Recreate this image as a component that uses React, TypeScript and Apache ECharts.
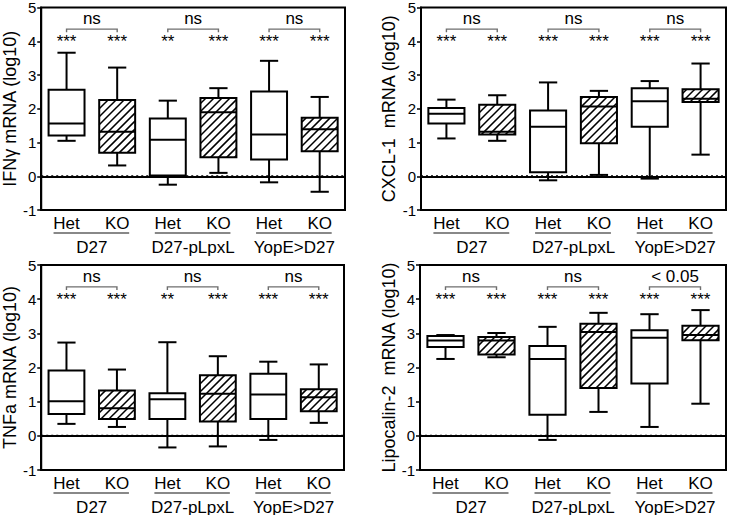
import React, { useEffect, useRef } from "react";
import * as echarts from "echarts";

const categories = ["Het", "KO", "Het", "KO", "Het", "KO"];
const groups = ["D27", "D27-pLpxL", "YopE>D27"];

// each box: [min, Q1, median, Q3, max]
const ifngBoxes = [
  [1.05, 1.21, 1.56, 2.56, 3.66],
  [0.32, 0.7, 1.32, 2.26, 3.22],
  [-0.25, 0.02, 1.08, 1.71, 2.24],
  [0.1, 0.56, 1.9, 2.32, 2.61],
  [-0.18, 0.5, 1.24, 2.51, 3.42],
  [-0.46, 0.74, 1.39, 1.73, 2.35],
];
const cxcl1Boxes = [
  [1.12, 1.56, 1.85, 2.02, 2.27],
  [1.05, 1.24, 1.32, 2.12, 2.4],
  [-0.12, 0.12, 1.47, 1.95, 2.78],
  [0.04, 0.98, 2.07, 2.35, 2.53],
  [-0.07, 1.47, 2.22, 2.61, 2.82],
  [0.64, 2.2, 2.3, 2.58, 3.34],
];
const tnfaBoxes = [
  [0.35, 0.64, 1.01, 1.91, 2.73],
  [0.26, 0.49, 0.81, 1.33, 1.94],
  [-0.34, 0.49, 1.07, 1.25, 2.74],
  [-0.31, 0.42, 1.23, 1.77, 2.33],
  [-0.12, 0.49, 1.21, 1.82, 2.17],
  [0.38, 0.72, 1.13, 1.36, 2.09],
];
const lcn2Boxes = [
  [2.25, 2.6, 2.79, 2.92, 2.95],
  [2.3, 2.38, 2.79, 2.89, 3.01],
  [-0.12, 0.62, 2.25, 2.63, 3.19],
  [0.7, 1.4, 3.04, 3.28, 3.6],
  [0.26, 1.53, 2.87, 3.09, 3.56],
  [0.94, 2.8, 2.95, 3.22, 3.68],
];

const ifngStars = ["***", "***", "**", "***", "***", "***"];
const cxcl1Stars = ["***", "***", "***", "***", "***", "***"];
const tnfaStars = ["***", "***", "**", "***", "***", "***"];
const lcn2Stars = ["***", "***", "***", "***", "***", "***"];

const ifngPairs = ["ns", "ns", "ns"];
const cxcl1Pairs = ["ns", "ns", "ns"];
const tnfaPairs = ["ns", "ns", "ns"];
const lcn2Pairs = ["ns", "ns", "< 0.05"];

const yTitles = [
  "IFNγ mRNA (log10)",
  "CXCL-1  mRNA (log10)",
  "TNFa mRNA (log10)",
  "Lipocalin-2  mRNA (log10)",
];

const FONT = "'Liberation Sans', Arial, Helvetica, sans-serif";

const panels = [
  { boxes: ifngBoxes, stars: ifngStars, pairs: ifngPairs, title: yTitles[0], grid: { left: 38, top: 5, width: 307, height: 205 }, nameGap: 20 },
  { boxes: cxcl1Boxes, stars: cxcl1Stars, pairs: cxcl1Pairs, title: yTitles[1], grid: { left: 421, top: 5, width: 305, height: 205 }, nameGap: 23 },
  { boxes: tnfaBoxes, stars: tnfaStars, pairs: tnfaPairs, title: yTitles[2], grid: { left: 37, top: 265, width: 307, height: 205 }, nameGap: 20 },
  { boxes: lcn2Boxes, stars: lcn2Stars, pairs: lcn2Pairs, title: yTitles[3], grid: { left: 420, top: 265, width: 306, height: 205 }, nameGap: 22 },
];

const STAR_Y = 4.05;
const BRACKET_Y = 4.36;
const BRACKET_TICK_Y = 4.27;
const PAIR_TEXT_Y = 4.66;

function makeBoxRender(stars: string[]) {
  return (params: any, api: any) => {
    const xi = api.value(0);
    const hatched = api.value(6) === 1;
    const cx = api.coord([xi, 0])[0];
    const yMin = api.coord([xi, api.value(1)])[1];
    const yQ1 = api.coord([xi, api.value(2)])[1];
    const yMed = api.coord([xi, api.value(3)])[1];
    const yQ3 = api.coord([xi, api.value(4)])[1];
    const yMax = api.coord([xi, api.value(5)])[1];
    const band = api.size([1, 0])[0];
    const half = band * 0.355;
    const capHalf = band * 0.18;
    const x0 = cx - half;
    const x1 = cx + half;
    const children: any[] = [];
    const lineStyle = { stroke: "#000", lineWidth: 2 };
    children.push({ type: "line", shape: { x1: cx, y1: yQ3, x2: cx, y2: yMax }, style: lineStyle });
    children.push({ type: "line", shape: { x1: cx, y1: yQ1, x2: cx, y2: yMin }, style: lineStyle });
    children.push({ type: "line", shape: { x1: cx - capHalf, y1: yMax, x2: cx + capHalf, y2: yMax }, style: lineStyle });
    children.push({ type: "line", shape: { x1: cx - capHalf, y1: yMin, x2: cx + capHalf, y2: yMin }, style: lineStyle });
    children.push({ type: "rect", shape: { x: x0, y: yQ3, width: x1 - x0, height: yQ1 - yQ3 }, style: { fill: "#fff", stroke: "none" } });
    if (hatched) {
      const step = 8;
      const top = yQ3;
      const bot = yQ1;
      const cStart = Math.ceil((x0 + top) / step) * step;
      for (let c = cStart; c < x1 + bot; c += step) {
        const xa = Math.max(x0, c - bot);
        const xb = Math.min(x1, c - top);
        if (xb - xa > 0.5) {
          children.push({
            type: "line",
            shape: { x1: xa, y1: c - xa, x2: xb, y2: c - xb },
            style: { stroke: "#000", lineWidth: 1.5 },
          });
        }
      }
    }
    children.push({ type: "rect", shape: { x: x0, y: yQ3, width: x1 - x0, height: yQ1 - yQ3 }, style: { fill: "none", stroke: "#000", lineWidth: 2 } });
    children.push({ type: "line", shape: { x1: x0, y1: yMed, x2: x1, y2: yMed }, style: lineStyle });
    const sy = api.coord([xi, STAR_Y])[1];
    children.push({
      type: "text",
      x: cx,
      y: sy + 2,
      style: {
        text: stars[params.dataIndex],
        fill: "#000",
        fontSize: 17,
        fontFamily: FONT,
        align: "center",
        verticalAlign: "middle",
        textAlign: "center",
        textVerticalAlign: "middle",
      },
    });
    return { type: "group", children };
  };
}

function makeAnnotRender(pairs: string[]) {
  return (params: any, api: any) => {
    const hi = api.value(0);
    const gi = params.dataIndex;
    const cs = params.coordSys;
    const bottom = cs.y + cs.height;
    const cxH = api.coord([hi, 0])[0];
    const cxK = api.coord([hi + 1, 0])[0];
    const mid = (cxH + cxK) / 2;
    const by = api.coord([hi, BRACKET_Y])[1];
    const bty = api.coord([hi, BRACKET_TICK_Y])[1];
    const ty = api.coord([hi, PAIR_TEXT_Y])[1];
    const gray = { stroke: "#6e6e6e", lineWidth: 1.4 };
    const children: any[] = [];
    if (gi === 0) {
      const zy = api.coord([hi, 0])[1];
      children.push({
        type: "line",
        shape: { x1: cs.x, y1: zy, x2: cs.x + cs.width, y2: zy },
        style: { stroke: "#000", lineWidth: 2, lineDash: [2, 3] },
      });
    }
    children.push({ type: "polyline", shape: { points: [[cxH, bty], [cxH, by], [cxK, by], [cxK, bty]] }, style: { ...gray, fill: "none" } });
    children.push({
      type: "text",
      x: mid,
      y: ty,
      style: { text: pairs[gi], fill: "#000", fontSize: 17, fontFamily: FONT, align: "center", verticalAlign: "middle", textAlign: "center", textVerticalAlign: "middle" },
    });
    children.push({
      type: "line",
      shape: { x1: cxH - 13, y1: bottom + 23, x2: cxK + 12, y2: bottom + 23 },
      style: { stroke: "#888", lineWidth: 2 },
    });
    children.push({
      type: "text",
      x: mid,
      y: bottom + 37,
      style: { text: groups[gi], fill: "#000", fontSize: 17, fontFamily: FONT, align: "center", verticalAlign: "middle", textAlign: "center", textVerticalAlign: "middle" },
    });
    return { type: "group", children };
  };
}

export default function App() {
  const ref = useRef<HTMLDivElement>(null);
  useEffect(() => {
    if (!ref.current) return;
    const chart = echarts.init(ref.current, undefined, { renderer: "svg" });
    const grid: any[] = [];
    const xAxis: any[] = [];
    const yAxis: any[] = [];
    const series: any[] = [];
    panels.forEach((p, i) => {
      grid.push({ ...p.grid, show: true, borderColor: "#000", borderWidth: 2, backgroundColor: "transparent" });
      xAxis.push({
        type: "category",
        gridIndex: i,
        data: categories,
        boundaryGap: true,
        axisTick: { show: false },
        axisLine: { lineStyle: { color: "#000", width: 2 } },
        axisLabel: { fontSize: 17, color: "#000", margin: 5, fontFamily: FONT, interval: 0 },
        splitLine: { show: false },
      });
      yAxis.push({
        type: "value",
        gridIndex: i,
        min: -1,
        max: 5,
        interval: 1,
        name: p.title,
        nameLocation: "middle",
        nameGap: p.nameGap,
        nameTextStyle: { fontSize: 18, color: "#000", fontFamily: FONT },
        axisLine: { show: true, lineStyle: { color: "#000", width: 2 } },
        axisTick: { show: true, length: 4, lineStyle: { color: "#000", width: 1.5 } },
        axisLabel: { fontSize: 15, color: "#000", margin: 5, fontFamily: FONT },
        splitLine: { show: false },
      });
      series.push({
        type: "custom",
        xAxisIndex: i,
        yAxisIndex: i,
        clip: false,
        z: 1,
        encode: { x: 0, y: 1 },
        data: [0, 2, 4].map((h) => [h, 4.5]),
        renderItem: makeAnnotRender(p.pairs),
      });
      series.push({
        type: "custom",
        xAxisIndex: i,
        yAxisIndex: i,
        clip: false,
        z: 2,
        encode: { x: 0, y: [1, 2, 3, 4, 5] },
        data: p.boxes.map((b, k) => [k, ...b, k % 2]),
        renderItem: makeBoxRender(p.stars),
      });
    });
    chart.setOption({
      animation: false,
      backgroundColor: "#fff",
      textStyle: { fontFamily: FONT },
      grid,
      xAxis,
      yAxis,
      series,
    });
    return () => chart.dispose();
  }, []);
  return <div ref={ref} style={{ position: "absolute", left: 0, top: 0, width: 729, height: 515 }} />;
}
